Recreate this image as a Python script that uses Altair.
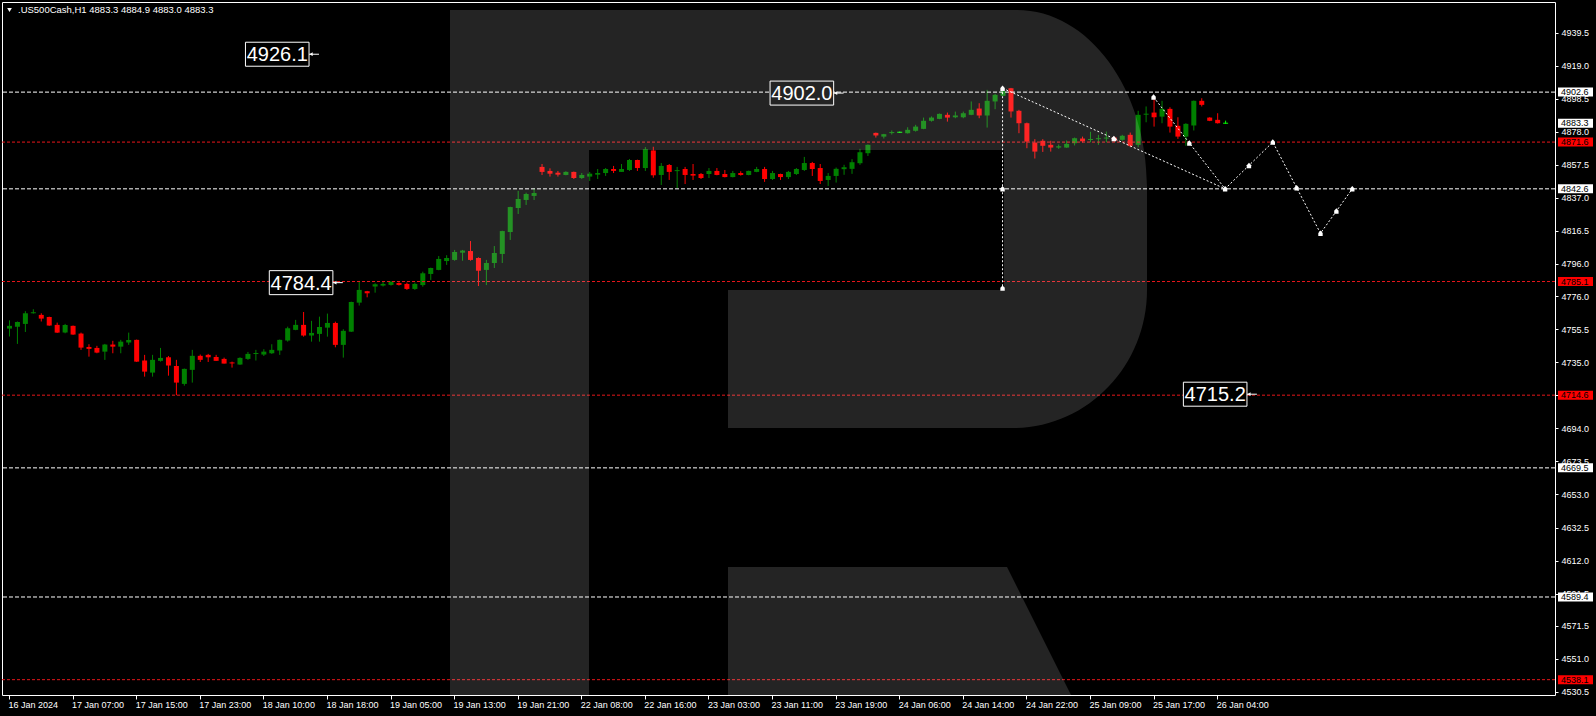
import altair as alt
import pandas as pd

# ---------------------------------------------------------------- data
# Hourly OHLC bars of .US500Cash, one entry per bar (bar index 0..153)
opens = [
    4755.9, 4757.1, 4758.8, 4765.4, 4764.4, 4763.1, 4758.2, 4753.4, 4757.6, 4752.8,
    4744.5, 4743.9, 4741.6, 4746.0, 4744.7, 4747.2, 4748.9, 4736.1, 4728.6, 4735.9,
    4738.1, 4732.7, 4721.6, 4730.3, 4739.0, 4739.6, 4738.3, 4737.1, 4734.8, 4733.6,
    4737.1, 4740.2, 4739.8, 4740.6, 4742.3, 4748.5, 4755.1, 4758.2, 4751.6, 4752.6,
    4756.5, 4759.4, 4745.8, 4754.0, 4772.0, 4779.1, 4782.0, 4782.6, 4783.0, 4784.2,
    4783.6, 4780.5, 4782.9, 4789.8, 4792.3, 4797.8, 4798.5, 4803.0, 4804.0, 4799.7,
    4792.3, 4796.6, 4802.2, 4815.8, 4830.7, 4835.7, 4838.2, 4856.2, 4853.7, 4852.6,
    4851.2, 4853.1, 4849.3, 4850.2, 4851.4, 4852.4, 4854.9, 4853.1, 4854.3, 4860.5,
    4855.5, 4866.4, 4851.2, 4857.4, 4853.7, 4854.9, 4851.8, 4851.8, 4851.8, 4853.7,
    4851.8, 4849.9, 4852.4, 4851.2, 4853.1, 4854.9, 4848.7, 4851.8, 4849.9, 4851.8,
    4854.3, 4858.6, 4855.5, 4848.1, 4850.6, 4854.8, 4855.0, 4858.5, 4864.7, 4877.3,
    4875.0, 4877.3, 4877.7, 4877.1, 4878.6, 4879.8, 4884.8, 4886.0, 4888.5, 4887.0,
    4887.0, 4888.5, 4892.4, 4888.1, 4896.8, 4900.3, 4905.0, 4891.0, 4883.3, 4871.3,
    4872.4, 4869.9, 4868.2, 4868.2, 4870.9, 4873.8, 4873.0, 4873.4, 4873.8, 4874.4,
    4873.0, 4876.1, 4869.9, 4888.7, 4889.9, 4887.4, 4892.2, 4881.7, 4875.0, 4881.9,
    4897.2, 4886.8, 4885.4, 4883.3,
]
highs = [
    4761.0, 4760.3, 4766.7, 4767.9, 4765.4, 4763.3, 4759.6, 4758.8, 4757.8, 4753.4,
    4746.2, 4745.2, 4746.4, 4748.3, 4748.9, 4753.4, 4749.1, 4739.6, 4739.6, 4743.9,
    4738.9, 4736.5, 4731.1, 4742.7, 4739.8, 4740.2, 4739.6, 4737.9, 4735.4, 4738.1,
    4741.4, 4742.7, 4743.1, 4746.2, 4749.1, 4757.1, 4761.3, 4766.2, 4760.7, 4763.3,
    4765.2, 4760.2, 4755.5, 4772.6, 4785.5, 4779.3, 4784.0, 4785.1, 4785.3, 4784.6,
    4784.4, 4784.4, 4791.2, 4793.7, 4800.9, 4801.4, 4804.7, 4804.7, 4810.2, 4800.1,
    4798.5, 4807.1, 4816.6, 4831.5, 4841.3, 4840.2, 4842.9, 4858.0, 4855.3, 4853.7,
    4853.5, 4853.3, 4852.4, 4853.1, 4854.9, 4855.5, 4856.8, 4858.0, 4861.1, 4860.7,
    4868.5, 4868.7, 4858.6, 4858.0, 4856.2, 4856.2, 4858.0, 4852.4, 4855.5, 4855.5,
    4854.3, 4853.7, 4853.5, 4853.9, 4856.2, 4856.2, 4853.7, 4852.0, 4853.7, 4855.5,
    4862.4, 4859.3, 4858.0, 4852.4, 4855.8, 4857.5, 4861.0, 4867.4, 4870.1, 4877.5,
    4876.7, 4878.8, 4878.1, 4880.8, 4882.3, 4886.8, 4887.5, 4889.3, 4889.9, 4890.5,
    4890.5, 4896.8, 4895.7, 4904.0, 4901.5, 4905.0, 4905.2, 4891.6, 4883.7, 4873.4,
    4873.4, 4872.4, 4870.1, 4872.6, 4874.4, 4875.0, 4878.0, 4876.1, 4878.1, 4875.0,
    4876.1, 4877.5, 4891.0, 4893.7, 4898.2, 4897.2, 4893.2, 4887.0, 4883.3, 4897.4,
    4898.8, 4887.0, 4889.5, 4884.9,
]
lows = [
    4751.0, 4746.4, 4753.8, 4765.2, 4760.3, 4757.6, 4753.2, 4753.0, 4752.0, 4742.7,
    4738.5, 4740.6, 4736.5, 4740.6, 4740.6, 4745.8, 4735.2, 4726.1, 4726.1, 4735.4,
    4726.7, 4714.6, 4720.5, 4722.4, 4735.2, 4735.2, 4735.9, 4734.2, 4731.7, 4733.4,
    4736.5, 4736.1, 4738.9, 4740.2, 4739.6, 4747.8, 4754.9, 4750.9, 4747.8, 4747.8,
    4750.9, 4744.3, 4737.9, 4753.8, 4770.2, 4775.3, 4778.2, 4782.0, 4782.6, 4782.6,
    4779.9, 4779.9, 4781.9, 4786.1, 4792.1, 4795.4, 4798.0, 4798.0, 4798.0, 4782.3,
    4782.9, 4793.5, 4796.6, 4810.9, 4827.0, 4832.6, 4835.7, 4851.2, 4850.2, 4850.2,
    4851.0, 4848.7, 4848.7, 4847.5, 4848.7, 4850.6, 4852.4, 4853.1, 4853.7, 4853.7,
    4853.7, 4849.5, 4845.0, 4848.1, 4843.1, 4845.6, 4848.1, 4848.7, 4849.3, 4851.0,
    4849.7, 4849.7, 4850.8, 4851.0, 4852.9, 4846.9, 4848.1, 4848.1, 4848.7, 4851.2,
    4853.7, 4850.6, 4845.6, 4844.4, 4846.5, 4851.3, 4851.9, 4857.5, 4863.0, 4874.4,
    4873.8, 4876.3, 4877.3, 4876.9, 4878.1, 4879.6, 4884.3, 4885.8, 4884.3, 4886.4,
    4886.4, 4888.3, 4886.4, 4880.6, 4892.0, 4900.1, 4886.8, 4877.1, 4867.8, 4861.4,
    4865.5, 4865.7, 4867.4, 4868.0, 4869.5, 4871.3, 4871.5, 4869.9, 4871.5, 4871.7,
    4872.4, 4868.4, 4868.4, 4883.9, 4881.2, 4883.3, 4877.5, 4873.6, 4869.3, 4878.8,
    4893.7, 4884.6, 4883.1, 4883.0,
]
closes = [
    4757.6, 4760.0, 4765.4, 4766.0, 4762.1, 4757.8, 4753.4, 4758.2, 4752.2, 4744.1,
    4743.3, 4741.0, 4746.0, 4744.7, 4747.8, 4748.9, 4735.4, 4729.2, 4736.5, 4737.7,
    4733.0, 4722.4, 4730.9, 4739.0, 4736.5, 4738.1, 4735.9, 4734.2, 4734.4, 4737.7,
    4740.2, 4740.8, 4741.6, 4742.7, 4748.9, 4756.1, 4758.2, 4751.6, 4753.2, 4756.9,
    4759.4, 4745.8, 4754.5, 4772.4, 4779.9, 4777.8, 4783.4, 4783.6, 4784.9, 4783.0,
    4780.5, 4783.6, 4790.2, 4793.5, 4799.1, 4799.7, 4803.4, 4804.3, 4798.5, 4791.8,
    4796.6, 4802.8, 4816.4, 4831.3, 4836.3, 4839.4, 4840.0, 4853.1, 4852.0, 4851.4,
    4853.1, 4849.3, 4851.2, 4852.0, 4852.4, 4854.9, 4853.7, 4854.9, 4860.5, 4855.5,
    4867.2, 4851.0, 4856.8, 4853.1, 4854.1, 4851.2, 4850.8, 4849.3, 4853.7, 4851.2,
    4849.9, 4852.4, 4851.2, 4853.7, 4854.9, 4848.7, 4852.4, 4849.9, 4853.1, 4854.9,
    4858.6, 4854.9, 4847.5, 4850.6, 4855.0, 4856.0, 4859.1, 4865.3, 4869.9, 4875.7,
    4876.5, 4877.7, 4877.7, 4879.2, 4881.2, 4884.8, 4886.8, 4889.1, 4886.8, 4888.1,
    4889.5, 4891.6, 4888.1, 4897.2, 4900.9, 4903.2, 4890.6, 4883.3, 4871.9, 4865.7,
    4869.3, 4868.2, 4869.0, 4870.5, 4874.0, 4872.1, 4873.4, 4874.0, 4874.4, 4872.4,
    4875.5, 4869.3, 4888.5, 4889.1, 4887.0, 4892.2, 4881.2, 4875.0, 4882.9, 4897.2,
    4894.7, 4884.8, 4883.3, 4883.3,
]

# Time axis labels, one every 8 bars
time_labels = [
    "16 Jan 2024", "17 Jan 07:00", "17 Jan 15:00", "17 Jan 23:00", "18 Jan 10:00",
    "18 Jan 18:00", "19 Jan 05:00", "19 Jan 13:00", "19 Jan 21:00", "22 Jan 08:00",
    "22 Jan 16:00", "23 Jan 03:00", "23 Jan 11:00", "23 Jan 19:00", "24 Jan 06:00",
    "24 Jan 14:00", "24 Jan 22:00", "25 Jan 09:00", "25 Jan 17:00", "26 Jan 04:00",
]
label_step = 8

# Price scale ticks
price_ticks = [
    4939.5, 4919.0, 4898.5, 4878.0, 4857.5, 4837.0, 4816.5, 4796.0, 4776.0, 4755.5,
    4735.0, 4714.5, 4694.0, 4673.5, 4653.0, 4632.5, 4612.0, 4591.5, 4571.5, 4551.0,
    4530.5,
]

# Horizontal support / resistance levels
level_values = [4902.6, 4871.6, 4842.6, 4785.1, 4714.6, 4669.5, 4589.4, 4538.1]
level_kinds = ["white", "red", "white", "red", "red", "white", "white", "red"]

# Boxed price annotations: value and the bar the pointer ends at
note_values = [4926.1, 4902.0, 4784.4, 4715.2]
note_bars = [39, 105, 42, 157]

# Projected path (bar, price)
drop_bar = 125
drop_prices = [4905.0, 4842.6, 4781.0]
slope_bars = [125, 153]
slope_prices = [4905.0, 4842.6]
path_bars = [144, 153, 159, 165, 169]
path_prices = [4899.5, 4842.6, 4871.6, 4815.0, 4842.6]

symbol = ".US500Cash,H1"

# ---------------------------------------------------------------- layout
W, H = 1553, 693
X_DOMAIN = [-0.25, 193.875]
Y_DOMAIN = [4528.6, 4958.5]
PX_X = (X_DOMAIN[1] - X_DOMAIN[0]) / W      # bar units per pixel
PX_Y = (Y_DOMAIN[1] - Y_DOMAIN[0]) / H      # price units per pixel
FONT = "Liberation Sans"
GREEN, RED, LIME = "#008000", "#ff0000", "#00ff00"
LEVEL_RED = "#e8161a"

xs = alt.Scale(domain=X_DOMAIN, nice=False, zero=False)
ys = alt.Scale(domain=Y_DOMAIN, nice=False, zero=False)

label_js = "[" + ",".join("'%s'" % t for t in time_labels) + "]"
x_axis = alt.Axis(
    values=[k * label_step for k in range(len(time_labels))],
    labelExpr=f"{label_js}[round(datum.value / {label_step})]",
    title=None, grid=False, domain=False, ticks=True, tickSize=4,
    tickColor="white", labelColor="white", labelFont=FONT, labelFontSize=9,
    labelAlign="left", labelOffset=-1, labelPadding=1, labelFlush=False,
    labelOverlap=False, labelBound=False,
)
y_axis = alt.Axis(
    orient="right", values=price_ticks, format=".1f", title=None, grid=False,
    domain=False, tickSize=3, tickColor="white", labelColor="white",
    labelFont=FONT, labelFontSize=9, labelPadding=3, labelFlush=False,
    labelOverlap=False, labelBaseline="middle",
)


def X(field):
    return alt.X(field, scale=xs, axis=x_axis)


def Y(field):
    return alt.Y(field, scale=ys, axis=y_axis)


# ---------------------------------------------------------------- frames
bars = pd.DataFrame({"bar": range(len(opens)), "open": opens, "high": highs,
                     "low": lows, "close": closes})
bars["dir"] = ["up" if c > o else ("down" if c < o else "flat")
               for o, c in zip(bars["open"], bars["close"])]
half_px = 0.5 * PX_Y
tops, bots = [], []
for o, c in zip(bars["open"], bars["close"]):
    hi, lo = max(o, c), min(o, c)
    if hi - lo < 2 * half_px:
        mid = (hi + lo) / 2
        hi, lo = mid + half_px, mid - half_px
    tops.append(hi)
    bots.append(lo)
bars["top"], bars["bot"] = tops, bots

dir_color = alt.Color("dir:N", scale=alt.Scale(domain=["up", "down", "flat"],
                                               range=[GREEN, RED, LIME]), legend=None)

wicks = alt.Chart(bars).mark_rule(strokeWidth=1, xOffset=0.5, clip=True).encode(
    x=X("bar:Q"), y=Y("low:Q"), y2="high:Q", color=dir_color)
bodies = alt.Chart(bars).mark_bar(size=5, xOffset=0.5, clip=True).encode(
    x=X("bar:Q"), y=Y("top:Q"), y2="bot:Q", color=dir_color)

levels = pd.DataFrame({"value": level_values, "kind": level_kinds})
white_levels = alt.Chart(levels[levels.kind == "white"]).mark_rule(
    color="white", strokeWidth=1, strokeDash=[4, 2]).encode(y=Y("value:Q"))
red_levels = alt.Chart(levels[levels.kind == "red"]).mark_rule(
    color=LEVEL_RED, strokeWidth=1, strokeDash=[3, 2]).encode(y=Y("value:Q"))

# projected path lines
rows = []
for k, p in enumerate([drop_prices[0], drop_prices[-1]]):
    rows.append({"seg": "drop", "k": k, "bar": drop_bar, "price": p})
for k, (b, p) in enumerate(zip(slope_bars, slope_prices)):
    rows.append({"seg": "slope", "k": k, "bar": b, "price": p})
for k, (b, p) in enumerate(zip(path_bars, path_prices)):
    rows.append({"seg": "path", "k": k, "bar": b, "price": p})
paths = pd.DataFrame(rows)
path_lines = alt.Chart(paths).mark_line(
    color="white", strokeWidth=1, strokeDash=[2, 2]).encode(
    x=X("bar:Q"), y=Y("price:Q"), detail="seg:N", order="k:Q")

# markers on the path: vertices and segment midpoints
marks = [(drop_bar, p) for p in drop_prices]
marks.append(((slope_bars[0] + slope_bars[1]) / 2, (slope_prices[0] + slope_prices[1]) / 2))
for j in range(len(path_bars)):
    marks.append((path_bars[j], path_prices[j]))
    if j + 1 < len(path_bars):
        marks.append(((path_bars[j] + path_bars[j + 1]) / 2,
                      (path_prices[j] + path_prices[j + 1]) / 2))
marker_df = pd.DataFrame(marks, columns=["bar", "price"])
ARROW = "M0,-1 L0.8,-0.1 L0.8,1 L-0.8,1 L-0.8,-0.1 Z"
markers = alt.Chart(marker_df).mark_point(
    shape=ARROW, size=30, filled=True, color="white", opacity=1).encode(
    x=X("bar:Q"), y=Y("price:Q"))

# boxed annotations with a pointer
notes = pd.DataFrame({"value": note_values, "bar": note_bars})
notes["label"] = notes["value"].map(lambda v: f"{v:.1f}")
notes["right"] = notes["bar"] - 10 * PX_X
notes["left"] = notes["right"] - 64 * PX_X
notes["mid"] = (notes["left"] + notes["right"]) / 2
notes["top"] = notes["value"] + 12 * PX_Y
notes["bottom"] = notes["value"] - 12 * PX_Y
note_box = alt.Chart(notes).mark_rect(fill="black", stroke="white", strokeWidth=1).encode(
    x=X("left:Q"), x2="right:Q", y=Y("top:Q"), y2="bottom:Q")
note_text = alt.Chart(notes).mark_text(
    font=FONT, fontSize=20, color="white", align="center", baseline="middle", dy=1).encode(
    x=X("mid:Q"), y=Y("value:Q"), text="label:N")
note_ptr = alt.Chart(notes).mark_rule(color="white", strokeWidth=1).encode(
    x=X("right:Q"), x2="bar:Q", y=Y("value:Q"))
note_head = alt.Chart(notes).mark_point(
    shape="triangle-left", size=14, filled=True, color="white", opacity=1, xOffset=2).encode(
    x=X("right:Q"), y=Y("value:Q"))

# price tags on the right scale
tag_values = level_values + [closes[-1]]
tag_fill = ["white" if k == "white" else RED for k in level_kinds] + ["white"]
tags = pd.DataFrame({"value": tag_values, "fill": tag_fill})
tags["label"] = tags["value"].map(lambda v: f"{v:.1f}")
tags["top"] = tags["value"] + 4.5 * PX_Y
tags["bottom"] = tags["value"] - 4.5 * PX_Y
tag_box = alt.Chart(tags).mark_rect().encode(
    x=alt.value(W + 3), x2=alt.value(W + 38),
    y=Y("top:Q"), y2="bottom:Q",
    fill=alt.Fill("fill:N", scale=None))
tag_text = alt.Chart(tags).mark_text(
    font=FONT, fontSize=9, color="#000000", align="left", baseline="middle").encode(
    x=alt.value(W + 6), y=Y("value:Q"), text="label:N")

# header line with symbol and last bar OHLC
header_str = f"{symbol}  {opens[-1]:.1f} {highs[-1]:.1f} {lows[-1]:.1f} {closes[-1]:.1f}"
one = pd.DataFrame({"t": [header_str]})
header_tri = alt.Chart(one).mark_point(
    shape="triangle-down", size=22, filled=True, color="white", opacity=1).encode(
    x=alt.value(7.5), y=alt.value(8))
header_text = alt.Chart(one).mark_text(
    font=FONT, fontSize=9.5, color="white", align="left", baseline="middle").encode(
    x=alt.value(16), y=alt.value(8), text="t:N")

# translucent "R" logo over the plot (path in plot pixels, drawn at unit scale)
LOGO = ("M448,8 L1015,8 A130,177 0 0 1 1145,185 L1145,288 A134,138 0 0 1 1011,426 "
        "L726,426 L726,288 L1002,288 L1002,148 L587,148 L587,693 L448,693 Z "
        "M726,565 L1005,565 L1069,693 L726,693 Z")
logo = alt.Chart(pd.DataFrame({"k": [0]})).mark_point(
    shape=LOGO, size=4, filled=True, fill="white", fillOpacity=0.14,
    strokeOpacity=0, opacity=1).encode(x=alt.value(0), y=alt.value(0))

chart = alt.layer(
    wicks, bodies, white_levels, red_levels, path_lines, markers,
    note_box, note_text, note_ptr, note_head, tag_box, tag_text,
    header_tri, header_text, logo,
).properties(
    width=W, height=H,
    autosize=alt.AutoSizeParams(type="none"),
    padding={"left": 2, "top": 2, "right": 41, "bottom": 21},
    background="#000000",
).configure_view(
    stroke="white", strokeWidth=1, fill="#000000",
)

chart.save("out.html", embed_options={"renderer": "svg", "actions": False})
